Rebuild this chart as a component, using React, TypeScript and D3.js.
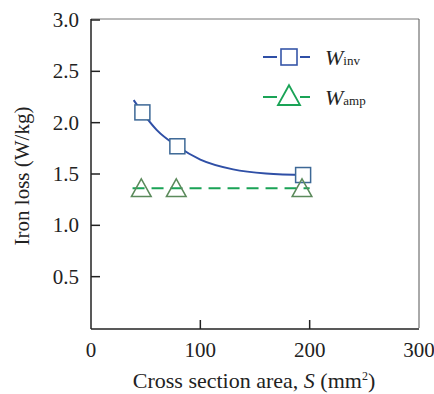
import React from "react";
import * as d3 from "d3";

const invX = [47, 79, 194];
const invY = [2.1, 1.77, 1.49];
const ampX = [46, 78, 193];
const ampY = [1.35, 1.35, 1.35];
const fitX = [39, 47, 60, 79, 100, 130, 160, 197];
const fitY = [2.22, 2.1, 1.93, 1.77, 1.64, 1.545, 1.505, 1.49];
const ampLineX = [38, 200];
const ampLineY = [1.36, 1.36];
const xTicks = [0, 100, 200, 300];
const yTicks = [0.5, 1.0, 1.5, 2.0, 2.5, 3.0];

export default function App() {
  const W = 434, H = 394;
  const left = 91, right = 419, top = 20, bottom = 328;
  const x = d3.scaleLinear().domain([0, 300]).range([left, right]);
  const y = d3.scaleLinear().domain([0, 3]).range([bottom, top]);
  const fstyle = { fontFamily: '"Liberation Serif"' };
  const fitLine = d3.line<number>().x((d) => x(fitX[d])).y((d) => y(fitY[d])).curve(d3.curveMonotoneX);
  const ampLine = d3.line<number>().x((d) => x(ampLineX[d])).y((d) => y(ampLineY[d]));
  const blue = "#2f4fa6";
  const sqStroke = "#3d6896";
  const green = "#1aa356";
  const triStroke = "#5b8a5b";
  const sq = 15;
  const tri = (cx: number, cy: number, s: number) =>
    `M${cx},${cy - s * 0.62} L${cx + s * 0.58},${cy + s * 0.42} L${cx - s * 0.58},${cy + s * 0.42} Z`;
  return (
    <svg width={W} height={H} style={{ position: "absolute", left: 0, top: 0, ...fstyle }}>
      <rect x={0} y={0} width={W} height={H} fill="#fff" />
      <line x1={left} y1={top - 1} x2={right} y2={top - 1} stroke="#777" strokeWidth={1} />
      <line x1={right} y1={top - 1} x2={right} y2={bottom} stroke="#555" strokeWidth={1} />
      <line x1={left} y1={top - 1} x2={left} y2={bottom + 1} stroke="#222" strokeWidth={1.5} />
      <line x1={left} y1={bottom + 1} x2={right} y2={bottom + 1} stroke="#222" strokeWidth={1.5} />
      {yTicks.map((t) => (
        <g key={"y" + t}>
          <line x1={left} x2={left + 9} y1={y(t)} y2={y(t)} stroke="#222" strokeWidth={1.5} />
          <text x={left - 12} y={y(t) + 7} textAnchor="end" style={fstyle} fontSize={21} fill="#222">
            {t.toFixed(1)}
          </text>
        </g>
      ))}
      {xTicks.map((t) => (
        <g key={"x" + t}>
          {t > 0 && t < 300 && (
            <line x1={x(t)} x2={x(t)} y1={bottom + 1} y2={bottom - 8} stroke="#222" strokeWidth={1.5} />
          )}
          <text x={x(t)} y={bottom + 29} textAnchor="middle" style={fstyle} fontSize={21} fill="#222">
            {t}
          </text>
        </g>
      ))}
      <text x={254} y={388} textAnchor="middle" style={fstyle} fontSize={22} fill="#222">
        Cross section area, <tspan fontStyle="italic">S</tspan> (mm
        <tspan fontSize={12} dy={-8}>2</tspan>
        <tspan dy={8}>)</tspan>
      </text>
      <text
        transform={`translate(29,176) rotate(-90)`}
        textAnchor="middle"
        style={fstyle}
        fontSize={21}
        fill="#222"
      >
        Iron loss (W/kg)
      </text>
      <path d={fitLine(d3.range(fitX.length)) || ""} fill="none" stroke={blue} strokeWidth={2} />
      <path
        d={ampLine(d3.range(ampLineX.length)) || ""}
        fill="none"
        stroke={green}
        strokeWidth={2}
        strokeDasharray="12,7"
      />
      {invX.map((v, i) => (
        <rect
          key={"s" + i}
          x={x(v) - sq / 2}
          y={y(invY[i]) - sq / 2}
          width={sq}
          height={sq}
          fill="#fff"
          stroke={sqStroke}
          strokeWidth={1.5}
        />
      ))}
      {ampX.map((v, i) => (
        <path key={"t" + i} d={tri(x(v), y(ampY[i]), 17)} fill="none" stroke={triStroke} strokeWidth={1.5} />
      ))}
      <g>
        <line x1={263} x2={277} y1={57} y2={57} stroke={blue} strokeWidth={2} />
        <line x1={300} x2={310} y1={57} y2={57} stroke={blue} strokeWidth={2} />
        <rect x={281} y={49} width={16} height={16} fill="#fff" stroke="#3656a8" strokeWidth={1.6} />
        <text x={325} y={65} style={fstyle} fontSize={22} fontStyle="italic" fill="#222">
          W<tspan fontStyle="normal" fontSize={13}>inv</tspan>
        </text>
        <line x1={263} x2={277} y1={97} y2={97} stroke={green} strokeWidth={2} />
        <line x1={300} x2={310} y1={97} y2={97} stroke={green} strokeWidth={2} />
        <path d={tri(289, 97, 19)} fill="none" stroke={green} strokeWidth={1.8} />
        <text x={325} y={105} style={fstyle} fontSize={22} fontStyle="italic" fill="#222">
          W<tspan fontStyle="normal" fontSize={13}>amp</tspan>
        </text>
      </g>
    </svg>
  );
}
